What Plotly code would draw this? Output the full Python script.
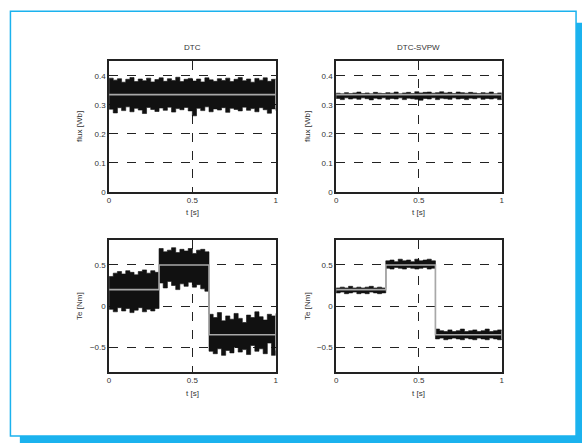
import plotly.graph_objects as go

W, H = 585, 448

# ---------------- data ----------------
t_env = [0.000, 0.025, 0.050, 0.075, 0.100, 0.125, 0.150, 0.175, 0.200, 0.225,
         0.250, 0.275, 0.300, 0.325, 0.350, 0.375, 0.400, 0.425, 0.450, 0.475,
         0.500, 0.525, 0.550, 0.575, 0.600, 0.625, 0.650, 0.675, 0.700, 0.725,
         0.750, 0.775, 0.800, 0.825, 0.850, 0.875, 0.900, 0.925, 0.950, 0.975, 1.000]

# DTC stator flux band (upper / lower envelope), Wb
dtc_flux_hi = [0.392, 0.385, 0.390, 0.378, 0.388, 0.394, 0.380, 0.389, 0.383, 0.392,
               0.379, 0.387, 0.393, 0.381, 0.390, 0.384, 0.395, 0.380, 0.388, 0.391,
               0.382, 0.389, 0.379, 0.393, 0.386, 0.381, 0.390, 0.384, 0.392, 0.380,
               0.388, 0.394, 0.383, 0.389, 0.378, 0.391, 0.385, 0.393, 0.381, 0.388, 0.390]
dtc_flux_lo = [0.285, 0.272, 0.290, 0.280, 0.293, 0.276, 0.288, 0.282, 0.270, 0.291,
               0.284, 0.277, 0.289, 0.281, 0.292, 0.275, 0.287, 0.283, 0.291, 0.279,
               0.262, 0.288, 0.280, 0.293, 0.276, 0.286, 0.282, 0.290, 0.274, 0.288,
               0.284, 0.279, 0.292, 0.281, 0.287, 0.276, 0.290, 0.283, 0.271, 0.286, 0.280]

# DTC-SVPWM stator flux band
svm_flux_hi = [0.340, 0.338, 0.342, 0.339, 0.341, 0.344, 0.339, 0.341, 0.338, 0.343,
               0.340, 0.339, 0.342, 0.340, 0.344, 0.338, 0.341, 0.343, 0.339, 0.345,
               0.341, 0.343, 0.344, 0.340, 0.342, 0.345, 0.341, 0.343, 0.339, 0.344,
               0.342, 0.340, 0.343, 0.341, 0.339, 0.342, 0.340, 0.344, 0.338, 0.341, 0.340]
svm_flux_lo = [0.322, 0.318, 0.324, 0.320, 0.323, 0.319, 0.324, 0.321, 0.317, 0.323,
               0.320, 0.324, 0.319, 0.322, 0.320, 0.324, 0.318, 0.323, 0.321, 0.319,
               0.316, 0.322, 0.320, 0.324, 0.318, 0.323, 0.321, 0.319, 0.324, 0.320,
               0.322, 0.318, 0.323, 0.321, 0.324, 0.319, 0.322, 0.320, 0.323, 0.318, 0.321]

# DTC torque band, Nm
dtc_te_hi = [0.36, 0.40, 0.42, 0.39, 0.43, 0.41, 0.38, 0.42, 0.44, 0.40, 0.43, 0.41,
             0.70, 0.66, 0.68, 0.71, 0.65, 0.69, 0.67, 0.70, 0.64, 0.68, 0.69, 0.66,
             -0.10, -0.14, -0.08, -0.18, -0.12, -0.16, -0.09, -0.15, -0.20, -0.11,
             -0.14, -0.07, -0.13, -0.17, -0.10, -0.12, -0.09]
dtc_te_lo = [-0.04, -0.07, -0.02, -0.06, -0.03, -0.08, -0.05, -0.02, -0.07, -0.04, -0.06, -0.03,
             0.28, 0.22, 0.30, 0.25, 0.20, 0.27, 0.24, 0.29, 0.23, 0.26, 0.21, 0.18,
             -0.55, -0.58, -0.52, -0.60, -0.54, -0.57, -0.50, -0.56, -0.53, -0.59,
             -0.48, -0.55, -0.52, -0.58, -0.45, -0.60, -0.54]

# DTC-SVPWM torque band
svm_te_hi = [0.22, 0.23, 0.22, 0.24, 0.22, 0.23, 0.22, 0.23, 0.24, 0.22, 0.23, 0.22,
             0.55, 0.56, 0.54, 0.57, 0.55, 0.56, 0.54, 0.57, 0.55, 0.56, 0.57, 0.55,
             -0.28, -0.30, -0.31, -0.29, -0.31, -0.30, -0.28, -0.31, -0.30, -0.29,
             -0.31, -0.30, -0.28, -0.31, -0.30, -0.29, -0.30]
svm_te_lo = [0.16, 0.17, 0.15, 0.16, 0.17, 0.15, 0.16, 0.15, 0.17, 0.16, 0.15, 0.16,
             0.46, 0.45, 0.47, 0.46, 0.45, 0.47, 0.46, 0.45, 0.46, 0.47, 0.45, 0.46,
             -0.40, -0.39, -0.41, -0.40, -0.39, -0.40, -0.41, -0.39, -0.40, -0.41,
             -0.39, -0.40, -0.41, -0.39, -0.40, -0.41, -0.40]

# reference signals
t_flux_ref = [0.0, 1.0]
flux_ref = [0.335, 0.335]
t_te_ref = [0.0, 0.3, 0.3, 0.6, 0.6, 1.0]
te_ref = [0.2, 0.2, 0.5, 0.5, -0.35, -0.35]

titles = ["DTC", "DTC-SVPW"]
x_ticks = [0, 0.5, 1]
flux_ticks = [0, 0.1, 0.2, 0.3, 0.4]
te_ticks = [-0.5, 0, 0.5]

# ---------------- figure ----------------
CYAN = "#1BB2EE"
GRAY = "#a8a8a8"
FONT = "Liberation Sans"

fig = go.Figure()


def px(x):
    return x / W


def py(y):
    return 1 - y / H


panels = [
    ("", (108, 276), (62, 194), dtc_flux_hi, dtc_flux_lo, t_flux_ref, flux_ref, [0, 0.45], flux_ticks),
    ("2", (337, 504), (62, 194), svm_flux_hi, svm_flux_lo, t_flux_ref, flux_ref, [0, 0.45], flux_ticks),
    ("3", (108, 276), (243, 376), dtc_te_hi, dtc_te_lo, t_te_ref, te_ref, [-0.8, 0.8], te_ticks),
    ("4", (337, 504), (243, 376), svm_te_hi, svm_te_lo, t_te_ref, te_ref, [-0.8, 0.8], te_ticks),
]

layout_axes = {}
for suf, xd, yd, hi, lo, rt, ry, yr, yt in panels:
    xa, ya = "x" + suf, "y" + suf
    fig.add_trace(go.Scatter(x=t_env, y=lo, xaxis=xa, yaxis=ya, mode="lines",
                             line=dict(color="#111", width=0.6, shape="hv"),
                             showlegend=False, hoverinfo="skip"))
    fig.add_trace(go.Scatter(x=t_env, y=hi, xaxis=xa, yaxis=ya, mode="lines",
                             line=dict(color="#111", width=0.6, shape="hv"),
                             fill="tonexty", fillcolor="#111",
                             showlegend=False, hoverinfo="skip"))
    fig.add_trace(go.Scatter(x=rt, y=ry, xaxis=xa, yaxis=ya, mode="lines",
                             line=dict(color=GRAY, width=1.6),
                             showlegend=False, hoverinfo="skip"))
    common = dict(showline=True, mirror=True, linecolor="#222", linewidth=1.6,
                  showgrid=True, gridcolor="#222", gridwidth=1, griddash="dash",
                  zeroline=False, ticks="", tickfont=dict(family=FONT, size=8, color="#333"))
    layout_axes["xaxis" + suf] = dict(common, domain=[px(xd[0]), px(xd[1])], range=[0, 1],
                                      tickvals=x_ticks, anchor=ya)
    layout_axes["yaxis" + suf] = dict(common, domain=[py(yd[1]), py(yd[0])], range=yr,
                                      tickvals=yt, anchor=xa)

fig.update_layout(**layout_axes)

ann = []
fnt = dict(family=FONT, size=8, color="#333")
for txt, x in zip(titles, [192, 420]):
    ann.append(dict(text=txt, x=px(x), y=py(48), xref="paper", yref="paper",
                    showarrow=False, font=fnt, xanchor="center", yanchor="middle"))
for x in [192, 420]:
    ann.append(dict(text="t [s]", x=px(x), y=py(215), xref="paper", yref="paper",
                    showarrow=False, font=fnt, xanchor="center", yanchor="middle"))
    ann.append(dict(text="t [s]", x=px(x), y=py(398), xref="paper", yref="paper",
                    showarrow=False, font=fnt, xanchor="center", yanchor="middle"))
for x in [78, 308]:
    ann.append(dict(text="flux [Wb]", x=px(x), y=py(128), xref="paper", yref="paper",
                    showarrow=False, font=fnt, textangle=-90, xanchor="center", yanchor="middle"))
    ann.append(dict(text="Te [Nm]", x=px(x), y=py(309), xref="paper", yref="paper",
                    showarrow=False, font=fnt, textangle=-90, xanchor="center", yanchor="middle"))

shapes = [
    dict(type="rect", xref="paper", yref="paper", x0=px(579), x1=px(585), y0=py(448), y1=py(23),
         fillcolor=CYAN, line=dict(width=0), layer="below"),
    dict(type="rect", xref="paper", yref="paper", x0=px(18), x1=px(585), y0=py(448), y1=py(441),
         fillcolor=CYAN, line=dict(width=0), layer="below"),
    dict(type="rect", xref="paper", yref="paper", x0=px(8.5), x1=px(579), y0=py(441), y1=py(11.5),
         fillcolor="rgba(0,0,0,0)", line=dict(color=CYAN, width=1.5), layer="below"),
]

fig.update_layout(width=W, height=H, margin=dict(l=0, r=0, t=0, b=0),
                  paper_bgcolor="white", plot_bgcolor="white",
                  annotations=ann, shapes=shapes, showlegend=False)

fig.write_html("out.html",
               config={"displayModeBar": False},
               post_script="document.body.style.margin='0';"
                           "document.body.style.padding='0';"
                           "document.documentElement.style.overflow='hidden';")
